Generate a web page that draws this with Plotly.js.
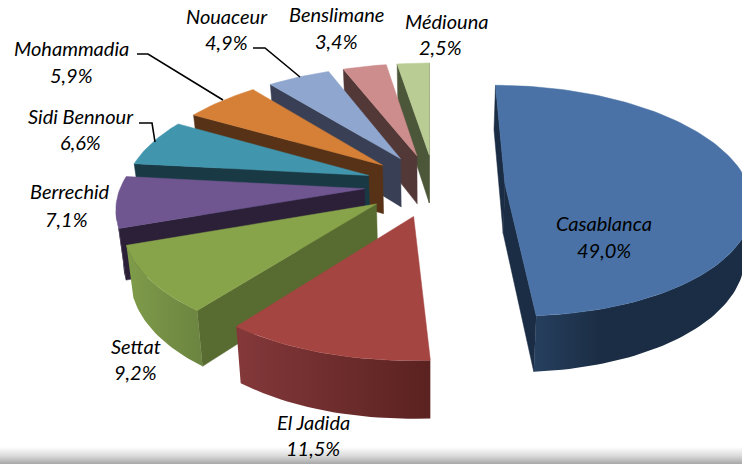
<!DOCTYPE html>
<html><head><meta charset="utf-8">
<script src="https://cdn.plot.ly/plotly-3.0.1.min.js"></script>
<style>html,body{margin:0;padding:0;background:#fff;overflow:hidden}</style>
</head><body><div id="chart" style="width:742px;height:464px"></div>
<script>
// ---- data ----
const names = ['Casablanca','El Jadida','Settat','Berrechid','Sidi Bennour','Mohammadia','Nouaceur','Benslimane','Médiouna'];
const values = [49.0,11.5,9.2,7.1,6.6,5.9,4.9,3.4,2.5];

// ---- styles ----
const topColors = ['#4a72a6','#a54541','#88a44b','#6f5690','#4196ae','#d68037','#8fa6cf','#cd8d8c','#b8cc93'];
const cutColors = ['#1b2d44','#5a2220','#586b30','#2b2038','#193a45','#573216','#394055','#533838','#4c5638'];
const rimLeft   = ['#26405f','#84383a','#7f9c4a','#3f2e58','#2a6a7c','#8a5020','#566a8c','#7a5050','#6b7d50'];
const rimRight  = ['#1b2d44','#5a2220','#6b8440','#2b2038','#193a45','#573216','#394055','#533838','#4c5638'];
const nameAt  = [[604,223],[313,422],[136,346],[70,191],[81,116],[71,48],[227,16],[336,14],[447,21]];
const valueAt = [[604,250],[313,448],[135,372],[66,219],[80,142],[71,75],[226,42],[336,41],[440,47]];
const leaders = [
  [[137,54],[148,54],[223,100]],
  [[253,48],[265,48],[300,77]],
  [[139,123],[152,123],[155,142]]
];

// ---- projection of an exploded pie ----
const view = {cx:430, vy:-600, S:800, F:248, Fpull:71.7, Q:0.147, uc:4.8, qc:0.019, pull:0.278, step:1.5};
const rad = d => d*Math.PI/180;
function project(u,q){
  const y = view.vy + view.S/(1+q);
  const x = view.cx + u*(y-view.vy)/view.S;
  return [x,y];
}
function drop(p){
  const d = 48 + (p[1]-155)*0.05;
  return [view.cx + (p[0]-view.cx)*0.977, p[1]+d];
}
const total = values.reduce((a,b)=>a+b,0);
let acc = 0;
const slices = values.map((v,i)=>{
  const a0 = acc/total*360; acc += v; const a1 = acc/total*360;
  const mid = rad((a0+a1)/2);
  const u0 = view.uc + view.Fpull*Math.sin(mid);
  const q0 = view.qc + view.Q*view.pull*Math.cos(mid);
  const arc = [];
  const n = Math.max(2,Math.ceil((a1-a0)/view.step));
  for(let k=0;k<=n;k++){
    const t = rad(a0+(a1-a0)*k/n);
    arc.push(project(u0+view.F*Math.sin(t), q0+view.Q*Math.cos(t)));
  }
  return {i, apex:project(u0,q0), arc};
});

function poly(points, color, gradient){
  const xs = points.map(p=>p[0]).concat(points[0][0]);
  const ys = points.map(p=>p[1]).concat(points[0][1]);
  const t = {type:'scatter',mode:'lines',x:xs,y:ys,fill:'toself',fillcolor:color,
             line:{width:0.5,color:color},hoverinfo:'skip',showlegend:false};
  if(gradient) { t.fillgradient = gradient; t.line = {width:0}; }
  return t;
}
function quad(a,b){ return [a,b,drop(b),drop(a)]; }

const traces = [];
// bottom fade of the picture
traces.push(poly([[0,447],[742,447],[742,464],[0,464]],'#ddd',
  {type:'vertical',colorscale:[[0,'#a8a8a8'],[0.5,'#dcdcdc'],[1,'#ffffff']]}));

slices.slice().reverse().forEach(s=>{
  const i = s.i, A = s.arc[0], B = s.arc[s.arc.length-1];
  if(A[0] < s.apex[0]) traces.push(poly(quad(s.apex,A),cutColors[i]));
  if(s.apex[0] < B[0]) traces.push(poly(quad(B,s.apex),cutColors[i]));
  const front = [];
  for(let k=0;k<s.arc.length-1;k++){
    if(s.arc[k+1][0] < s.arc[k][0]){
      if(!front.length) front.push(s.arc[k]);
      front.push(s.arc[k+1]);
    }
  }
  if(front.length>1){
    const ring = front.concat(front.slice().reverse().map(drop));
    const stops = i===0 ? [[0,rimLeft[i]],[0.3,rimRight[i]],[1,rimRight[i]]] : [[0,rimLeft[i]],[1,rimRight[i]]];
    traces.push(poly(ring,rimRight[i],{type:'horizontal',colorscale:stops}));
  }
  traces.push(poly([s.apex].concat(s.arc),topColors[i]));
});

leaders.forEach(l=>traces.push({type:'scatter',mode:'lines',x:l.map(p=>p[0]),y:l.map(p=>p[1]),
  line:{color:'#000',width:1.6},hoverinfo:'skip',showlegend:false}));

const fmt = v => v.toFixed(1).replace('.',',')+'%';
const labelFont = {family:'Lato, "Open Sans", sans-serif',size:20,color:'#000',style:'italic'};
const ann = (t,p)=>({text:t,x:p[0],y:p[1],xref:'x',yref:'y',showarrow:false,xanchor:'center',yanchor:'middle',font:labelFont});
const annotations = [];
names.forEach((n,i)=>{
  annotations.push(ann(n,nameAt[i]));
  annotations.push(ann(fmt(values[i]),valueAt[i]));
});

Plotly.newPlot('chart',traces,{
  width:742,height:464,margin:{l:0,r:0,t:0,b:0},
  paper_bgcolor:'#fff',plot_bgcolor:'#fff',showlegend:false,
  xaxis:{range:[0,742],visible:false,fixedrange:true},
  yaxis:{range:[464,0],visible:false,fixedrange:true},
  annotations
},{displayModeBar:false,staticPlot:true});
</script></body></html>
